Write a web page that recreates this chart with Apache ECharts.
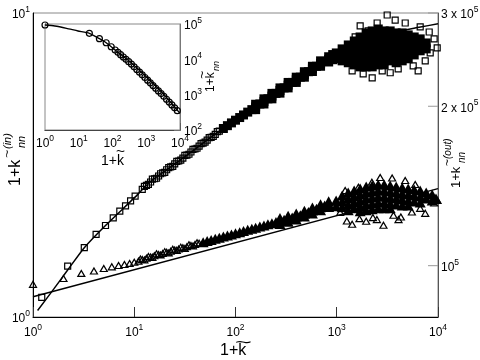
<!DOCTYPE html>
<html><head><meta charset="utf-8">
<script src="https://cdn.jsdelivr.net/npm/echarts@6/dist/echarts.min.js"></script>
<style>html,body{margin:0;padding:0;background:#fff}#c{width:480px;height:360px}</style>
</head><body><div id="c"></div>
<script>
// ---------- data ----------
const xRange = [1, 10000];
const yLeftRange = [1, 10];
const yRightRange = [80000, 300000];
const insetYRange = [100, 100000];
const rightTickValues = [100000, 200000, 300000];
const rightTickLabels = ['{b|10}{s|5}', '{b|2 x 10}{s|5}', '{b|3 x 10}{s|5}'];

// squares (k_nn^(in), left axis)
const sqLow = [[1.22,1.16],[2.2,1.47],[3.21,1.69],[4.2,1.87],[5.2,2.0],[6.2,2.12],[7.2,2.23],[8.2,2.32],[9.2,2.41],[10.2,2.5]];
const sqBand = [[12.0,2.63],[13.2,2.71],[14.5,2.78],[15.9,2.85],[17.4,2.91],[19.1,2.98],[20.9,3.05],[22.9,3.12],[25.1,3.19],[27.5,3.26],[30.2,3.33],[33.1,3.41],[36.3,3.49],[39.8,3.57],[43.7,3.65],[47.9,3.73],[52.5,3.82],[57.5,3.9],[63.1,3.99],[69.2,4.09],
 [12.6,2.69],[13.8,2.73],[15.1,2.84],[16.6,2.86],[18.2,2.96],[20.0,2.99],[21.9,3.10],[24.0,3.13],[26.3,3.25],[28.8,3.28],[31.6,3.40],[34.7,3.43],[38.0,3.56],[41.7,3.59],[45.7,3.72],[50.1,3.76],[55.0,3.89],[60.3,3.93],[66.1,4.07]];
const sqDense = [[75.9,4.17],[83.2,4.26],[91.2,4.35],[100,4.44],[110,4.53],[120,4.62],[132,4.72],[145,4.81],[158,4.91],[174,5.02],[191,5.12],[209,5.22],[229,5.33],[251,5.44],[275,5.56],[302,5.67],[331,5.79],[363,5.91],[398,6.03],[437,6.15],[479,6.28],[525,6.41],[575,6.55],[631,6.68],[692,6.82],[759,6.93],[832,7.04],[912,7.16],
 [158,5.01],[158,4.81],[191,5.22],[191,5.02],[229,5.44],[229,5.22],[275,5.67],[275,5.45],[331,5.91],[331,5.67],[398,6.15],[398,5.91],[479,6.41],[479,6.15],[575,6.68],[575,6.42],[692,6.96],[692,6.68],[832,7.18],[832,6.90],[912,7.30],[912,7.02],
 [990,7.39],[990,7.07],[1130,7.62],[1130,7.28],[1130,6.96],[1300,7.85],[1300,7.51],[1300,7.17],[1300,6.86],
 [1490,8.09],[1490,7.74],[1490,7.39],[1490,7.07],[1490,6.75],[1700,8.34],[1700,7.97],[1700,7.62],[1700,7.28],[1700,6.96],[1700,6.65],
 [1950,8.6],[1950,8.22],[1950,7.85],[1950,7.51],[1950,7.17],[1950,6.86],[1950,6.65],[2240,8.73],[2240,8.34],[2240,7.97],[2240,7.62],[2240,7.28],[2240,6.96],[2240,6.65],
 [2570,8.86],[2570,8.47],[2570,8.09],[2570,7.74],[2570,7.39],[2570,7.07],[2570,6.75],[2940,8.73],[2940,8.34],[2940,7.97],[2940,7.62],[2940,7.28],[2940,6.96],[2940,6.75],
 [3370,8.73],[3370,8.34],[3370,7.97],[3370,7.62],[3370,7.28],[3370,6.96],[3860,8.6],[3860,8.22],[3860,7.85],[3860,7.51],[3860,7.17],[3860,6.86],
 [4430,8.6],[4430,8.22],[4430,7.85],[4430,7.51],[4430,7.17],[4430,6.96],[5080,8.47],[5080,8.09],[5080,7.74],[5080,7.39],[5080,7.07],
 [5820,8.34],[5820,7.97],[5820,7.62],[5820,7.28],[6670,8.22],[6670,7.85],[6670,7.51],[7650,7.97],[7650,7.62]];
const sqOut = [[3148,9.85],[1703,9.07],[2506,9.27],[8185,8.66],[9817,7.68],[5688,6.7],[4044,6.55],[2812,6.45],[2239,6.12],[1824,6.31],[1419,6.45],[4744,9.27],[3776,9.48],[6670,9.0],[7480,6.96],[9160,8.22],[1211,7.62],[1520,8.34],[2042,8.73],[3372,6.36],[8375,7.39],[6370,6.45]];
const sqFit = [[1.11,1.05],[1.6,1.235],[2.2,1.427],[3.21,1.69],[5.2,2.0],[9.95,2.46],[14.3,2.78],[30.2,3.33],[70.4,4.1],[132,4.72],[220,5.28],[400,6.03],[685,6.8],[1000,7.3],[1823,8.09],[2700,8.42],[4230,8.73],[6500,8.97],[10000,9.22]];

// triangles (k_nn^(out), right axis)
const trLow = [[1,92200],[2,94600],[3,96700],[4,97700],[5,98800],[6,99500],[7,100100],[8,100500],[9,101000],[10,101500]];
const trBand = [[11,102000],[12,102700],[13.2,103300],[14.5,103900],[15.8,104400],[17.4,104950],[19.1,105480],[20.9,106000],[22.9,106500],[25.1,107030],[27.5,107550],[30.2,108070],[33.1,108620],[36.3,109150],[39.8,109680],[43.7,110200],
 [11.5,102900],[12.6,102500],[13.8,104100],[15.1,103700],[16.6,105300],[18.2,104800],[20.0,106300],[21.9,105700],[24.0,107400],[26.3,106900],[28.8,108400],[31.6,107800],[34.7,109500],[38.0,108900],[41.7,110500]];
const trDense = [[47.9,110740],[52.5,111280],[57.5,111820],[63.1,112370],[69.2,112920],[75.9,113470],[83.2,114020],[91.2,114570],[100,115130],[110,115690],[120,116280],[132,116850],[145,117410],[158,117980],[174,118560],[191,119130],[209,119710],[229,120320],[251,120900],[275,121490],[302,122080],[331,122670],[363,123270],[398,123900],[437,124520],[479,125380],[525,126250],[575,127150],[631,128040],[692,128960],[759,129860],[832,130760],
 [275,123100],[275,119900],[331,124300],[331,121100],[398,125500],[398,122300],[479,127000],[479,123800],[575,128800],[575,125500],[692,130600],[692,127300],[832,132400],[832,129100],
 [986,132830],[986,129420],[1130,135730],[1130,132250],[1130,128860],[1297,137500],[1297,133970],[1297,130530],[1297,127210],
 [1486,138700],[1486,135140],[1486,131680],[1486,128300],[1703,139920],[1703,136330],[1703,132830],[1703,129420],[1703,126650],
 [1953,141120],[1953,137500],[1953,133970],[1953,130530],[1953,127210],[2239,141740],[2239,138100],[2239,134550],[2239,131100],[2239,127750],
 [2566,142360],[2566,138700],[2566,135140],[2566,131680],[2566,128300],[2941,142360],[2941,138700],[2941,135140],[2941,131680],[2941,128300],
 [3372,141740],[3372,138100],[3372,134550],[3372,131100],[3372,128300],[3864,141120],[3864,137500],[3864,133970],[3864,130530],
 [4429,140520],[4429,136910],[4429,133400],[4429,129970],[5077,139920],[5077,136330],[5077,132830],[5077,129970],
 [5819,139310],[5819,135730],[5819,132250],[6670,138700],[6670,135140],[6670,131680],[7645,137500],[7645,133970],[8762,136330],[8762,132830],[9550,133970]];
const trOut = [[1258,121430],[1675,122700],[2275,123240],[2490,122180],[2893,119210],[3631,124500],[4074,122180],[4297,123550],[5521,126280],[6670,128300],[9160,131290],[9886,132830],[1637,140700],[2223,143780],[2685,146730],[3524,146400],[1211,138700],[1419,119730],[1953,121290],[7480,125560],[4742,144840],[5957,142360],[1081,126100]];
const trFit = [[1,87390],[10000,139800]];

// inset circles
const inPts = [[1,93700],[20.6,54600],[40.9,38400],[64.9,29500],[91.5,22700],[120,18370],[145,15780],[174,13550],[209,11640],[251,10000],[302,8590],[363,7330],[437,6150],[525,5160],[631,4340],[759,3640],[912,3060],[1096,2570],[1318,2160],[1585,1810],[1905,1520],[2291,1280],[2754,1074],[3311,896],[3981,743],[4786,617],[5754,512],[6918,424],[8318,352]];
const inFit = [[1,93700],[1.95,87800],[4.35,75500],[9.46,63400],[20.6,54600],[40.9,38400],[64.9,29500],[120,18400],[337,8390],[1014,3160],[3048,1110],[10000,295]];

// ---------- styling ----------
const FONT = '"Liberation Sans", Arial, sans-serif';
const rich = {
  b: {fontSize: 12, fontFamily: FONT, color: '#000', fill: '#000', lineHeight: 16, verticalAlign: 'bottom'},
  s: {fontSize: 8.5, fontFamily: FONT, color: '#000', fill: '#000', lineHeight: 10, verticalAlign: 'top'}
};
const pow10 = v => '{b|10}{s|' + Math.round(Math.log10(v)) + '}';
const hollow = {color: 'rgba(0,0,0,0)', borderColor: '#000', borderWidth: 1.2, opacity: 1};
const hollowC = {color: 'rgba(0,0,0,0)', borderColor: '#000', borderWidth: 1.2, opacity: 1};
const filled = {color: '#000', borderColor: '#000', borderWidth: 0, opacity: 1};

function txt(x, y, text, font, extra) {
  return Object.assign({type: 'text', x: x, y: y, silent: true,
    style: {text: text, font: font, fill: '#000', align: 'left', verticalAlign: 'middle', textAlign: 'left', textVerticalAlign: 'middle'}}, extra || {});
}

const chart = echarts.init(document.getElementById('c'), null, {renderer: 'canvas'});
chart.setOption({
  animation: false,
  backgroundColor: '#fff',
  grid: [
    {left: 33, top: 13, right: 42, bottom: 43, show: true, borderColor: '#888', borderWidth: 1, containLabel: false, outerBoundsMode: 'none'},
    {left: 45, top: 24, width: 135, height: 106, show: true, backgroundColor: '#fff', borderColor: '#888', borderWidth: 1, containLabel: false, outerBoundsMode: 'none', z: 3}
  ],
  xAxis: [
    {type: 'log', logBase: 10, gridIndex: 0, min: xRange[0], max: xRange[1], position: 'bottom',
     axisLine: {show: true, lineStyle: {color: '#000', width: 1}},
     axisTick: {show: true, inside: true, length: 10, lineStyle: {color: '#333'}},
     minorTick: {show: false}, splitLine: {show: false},
     axisLabel: {show: true, margin: 6, formatter: pow10, rich: rich, showMinLabel: true, showMaxLabel: true}},
    {type: 'log', logBase: 10, gridIndex: 1, min: xRange[0], max: xRange[1], position: 'bottom',
     axisLine: {show: true, lineStyle: {color: '#000', width: 1}},
     axisTick: {show: true, inside: true, length: 7, lineStyle: {color: '#333'}},
     minorTick: {show: false}, splitLine: {show: false},
     axisLabel: {show: true, margin: 4, formatter: pow10, rich: rich, showMinLabel: true, showMaxLabel: true}}
  ],
  yAxis: [
    {type: 'log', logBase: 10, gridIndex: 0, min: yLeftRange[0], max: yLeftRange[1], position: 'left',
     axisLine: {show: true, lineStyle: {color: '#000', width: 1}},
     axisTick: {show: false}, minorTick: {show: false}, splitLine: {show: false},
     axisLabel: {show: true, margin: 3, formatter: pow10, rich: rich, showMinLabel: true, showMaxLabel: true}},
    {type: 'log', logBase: 10, gridIndex: 0, min: yRightRange[0], max: yRightRange[1], position: 'right',
     axisLine: {show: true, lineStyle: {color: '#555', width: 1}},
     axisTick: {show: false}, minorTick: {show: false}, splitLine: {show: false}, axisLabel: {show: false}},
    {type: 'log', logBase: 10, gridIndex: 1, min: insetYRange[0], max: insetYRange[1], position: 'right',
     axisLine: {show: true, lineStyle: {color: '#666', width: 1}},
     axisTick: {show: true, inside: true, length: 6, lineStyle: {color: '#555'}},
     minorTick: {show: false}, splitLine: {show: false},
     axisLabel: {show: true, margin: 4, formatter: pow10, rich: rich, showMinLabel: true, showMaxLabel: true}},
    {type: 'log', logBase: 10, gridIndex: 1, min: insetYRange[0], max: insetYRange[1], position: 'left',
     axisLine: {show: true, lineStyle: {color: '#000', width: 1}},
     axisTick: {show: false}, minorTick: {show: false}, splitLine: {show: false}, axisLabel: {show: false}}
  ],
  series: [
    {type: 'scatter', xAxisIndex: 0, yAxisIndex: 0, data: sqLow.concat(sqBand, sqOut), symbol: 'rect', symbolSize: 6, itemStyle: hollow, silent: true, z: 2, emphasis: {disabled: true}},
    {type: 'scatter', xAxisIndex: 0, yAxisIndex: 0, data: sqDense, symbol: 'rect', symbolSize: 9, itemStyle: filled, silent: true, z: 2, emphasis: {disabled: true}},
    {type: 'scatter', xAxisIndex: 0, yAxisIndex: 1, data: trLow.concat(trBand, trOut), symbol: 'triangle', symbolSize: [7, 6], itemStyle: hollow, silent: true, z: 2, emphasis: {disabled: true}},
    {type: 'scatter', xAxisIndex: 0, yAxisIndex: 1, data: trDense, symbol: 'triangle', symbolSize: [11, 10], itemStyle: filled, silent: true, z: 2, emphasis: {disabled: true}},
    {type: 'line', xAxisIndex: 0, yAxisIndex: 0, data: sqFit, smooth: 0.2, showSymbol: false, symbol: 'none', lineStyle: {color: '#000', width: 1.5}, silent: true, z: 4},
    {type: 'line', xAxisIndex: 0, yAxisIndex: 1, data: trFit, showSymbol: false, symbol: 'none', lineStyle: {color: '#000', width: 1.5}, silent: true, z: 4},
    {type: 'line', xAxisIndex: 1, yAxisIndex: 2, data: inFit, smooth: 0.2, showSymbol: false, symbol: 'none', lineStyle: {color: '#000', width: 1.3}, silent: true, z: 5},
    {type: 'scatter', xAxisIndex: 1, yAxisIndex: 2, data: inPts, symbol: 'circle', symbolSize: 6, itemStyle: hollowC, silent: true, z: 5, emphasis: {disabled: true}},
    {type: 'custom', xAxisIndex: 0, yAxisIndex: 1, clip: false, silent: true, z: 6,
     data: rightTickValues.map((v, i) => [xRange[1], v, i]),
     renderItem: function (params, api) {
       const p = api.coord([api.value(0), api.value(1)]);
       const i = api.value(2);
       return {type: 'group', children: [
         {type: 'line', shape: {x1: p[0] - 10, y1: p[1], x2: p[0], y2: p[1]}, style: {stroke: '#999', lineWidth: 1}},
         {type: 'text', x: p[0] + 3, y: p[1], style: {text: rightTickLabels[i], rich: rich, fill: '#000', align: 'left', verticalAlign: 'middle', font: '12px ' + FONT}}
       ]};
     }}
  ],
  graphic: [
    {type: 'group', x: 220, y: 351, silent: true, children: [
      txt(0, 0, '1+k', '16px ' + FONT),
      txt(15, -7, '~', '16px ' + FONT, {scaleX: 1.8})
    ]},
    {type: 'group', x: 16, y: 186, rotation: Math.PI / 2, silent: true, children: [
      txt(0, 0, '1+k', '16px ' + FONT),
      txt(28, -8, '~', '11px ' + FONT, {scaleX: 1.3}),
      txt(37, -8, '(in)', 'italic 11px ' + FONT),
      txt(38, 6, 'nn', 'italic 11px ' + FONT)
    ]},
    {type: 'group', x: 456, y: 188, rotation: Math.PI / 2, silent: true, children: [
      txt(0, 0, '1+k', '13px ' + FONT),
      txt(22, -8, '~', '10px ' + FONT, {scaleX: 1.2}),
      txt(29, -8, '(out)', 'italic 10px ' + FONT),
      txt(25, 6, 'nn', 'italic 10px ' + FONT)
    ]},
    {type: 'group', x: 211, y: 92, rotation: Math.PI / 2, silent: true, children: [
      txt(0, 0, '1+k', '12px ' + FONT),
      txt(13, -8, '~', '12px ' + FONT, {scaleX: 1.2}),
      txt(21, 5, 'nn', 'italic 9px ' + FONT)
    ]},
    {type: 'group', x: 101, y: 161, silent: true, children: [
      txt(0, 0, '1+k', '14px ' + FONT),
      txt(15, -9, '~', '14px ' + FONT, {scaleX: 1.1})
    ]}
  ]
});
</script></body></html>
